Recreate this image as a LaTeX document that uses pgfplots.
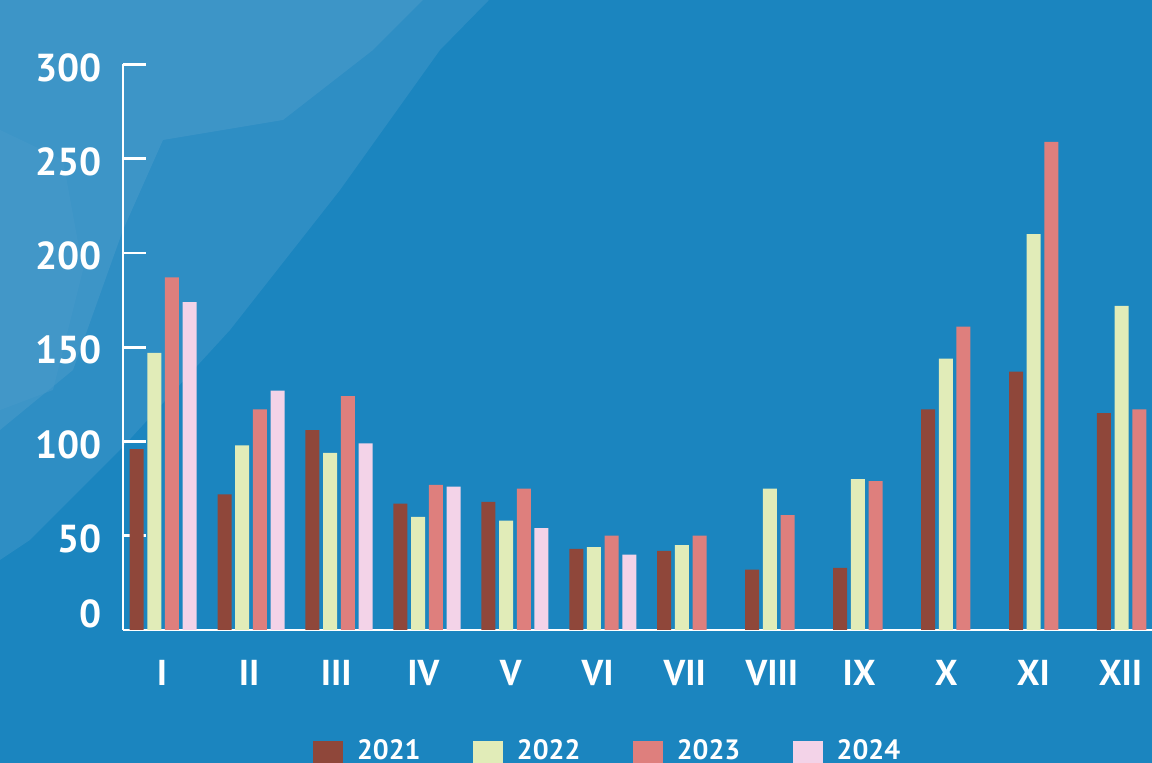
\documentclass[border=0pt]{standalone}
\usepackage{fontspec}
\setmainfont{PT Sans}
\usepackage{pgfplots}
\pgfplotsset{compat=1.18}
\definecolor{bgblue}{HTML}{1B85BF}
\definecolor{bgmid}{HTML}{3290C5}
\definecolor{bglight}{HTML}{4A9BCB}
\definecolor{c2021}{HTML}{8F473A}
\definecolor{c2022}{HTML}{E1ECB8}
\definecolor{c2023}{HTML}{DE7F7D}
\definecolor{c2024}{HTML}{F3D3E8}
\begin{document}
\begin{tikzpicture}
% background
\fill[bgblue] (-61.5pt,-66.5pt) rectangle (514.5pt,315pt);
\fill[bgmid, opacity=0.85] (-61.5pt,315pt) -- (183pt,315pt) -- (158.5pt,290pt) -- (108.5pt,220pt) -- (53.5pt,150pt) -- (-1.5pt,90pt) -- (-46.5pt,45pt) -- (-61.5pt,35pt) -- cycle;
\fill[bglight, opacity=0.55] (-61.5pt,315pt) -- (150pt,315pt) -- (125pt,290pt) -- (80pt,255pt) -- (20pt,245pt) -- (0pt,200pt) -- (-25pt,130pt) -- (-61.5pt,100pt) -- cycle;
\fill[bglight, opacity=0.45] (-61.5pt,250pt) -- (-30pt,235pt) -- (-20pt,180pt) -- (-35pt,120pt) -- (-61.5pt,110pt) -- cycle;
\begin{axis}[
  at={(0,0)}, anchor=south west,
  scale only axis, width=514.5pt, height=282.75pt,
  xmin=-0.456, xmax=11.244, ymin=0, ymax=300,
  axis lines*=left,
  axis line style={white, line width=1.4pt},
  ybar=1.85pt, bar width=7pt,
  tick align=inside,
  major tick length=11.5pt,
  minor tick length=5pt,
  ytick={50,100,150,200,250,300},
  yticklabels={50,100,150,200,250,300},
  extra y ticks={0},
  extra y tick labels={0},
  extra y tick style={yticklabel style={yshift=9.5pt}},
  ytick style={white, line width=1.3pt},
  yticklabel style={font=\fontsize{19.5}{20}\selectfont\bfseries, text=white, xshift=-7pt, yshift=-1.5pt},
  xtick={-0.0125,0.978,1.969,2.960,3.951,4.941,5.932,6.923,7.914,8.905,9.895,10.886},
  xticklabels={I,II,III,IV,V,VI,VII,VIII,IX,X,XI,XII},
  xtick style={draw=none},
  minor xtick={0.533,1.528,2.523,3.518,4.513,5.508,6.503,7.497,8.492,9.487,10.482},
  minor x tick style={white, line width=1pt},
  xticklabel style={font=\fontsize{18}{19}\selectfont\bfseries, text=white, yshift=-11.5pt},
  legend columns=4,
  legend image code/.code={\fill[#1,draw=none] (0pt,-10pt) rectangle (15pt,5pt);},
  legend style={at={(axis description cs:0.18465,-0.1945)}, anchor=north west,
    draw=none, fill=none, inner sep=0pt, outer sep=0pt,
    font=\fontsize{14}{15}\selectfont\bfseries, text=white,
    nodes={inner sep=0pt},
    /tikz/every odd column/.append style={column sep=7pt},
    /tikz/every even column/.append style={column sep=26.2pt}},
]
\addplot[fill=c2021, draw=none] coordinates {(0,96) (1,72) (2,106) (3,67) (4,68) (5,43) (6,42) (7,32) (8,33) (9,117) (10,137) (11,115)};
\addplot[fill=c2022, draw=none] coordinates {(0,147) (1,98) (2,94) (3,60) (4,58) (5,44) (6,45) (7,75) (8,80) (9,144) (10,210) (11,172)};
\addplot[fill=c2023, draw=none] coordinates {(0,187) (1,117) (2,124) (3,77) (4,75) (5,50) (6,50) (7,61) (8,79) (9,161) (10,259) (11,117)};
\addplot[fill=c2024, draw=none] coordinates {(0,174) (1,127) (2,99) (3,76) (4,54) (5,40)};
\legend{2021,2022,2023,2024}
\end{axis}
\pgfresetboundingbox
\useasboundingbox (-61.5pt,-66.5pt) rectangle (514.5pt,315pt);
\end{tikzpicture}
\end{document}
